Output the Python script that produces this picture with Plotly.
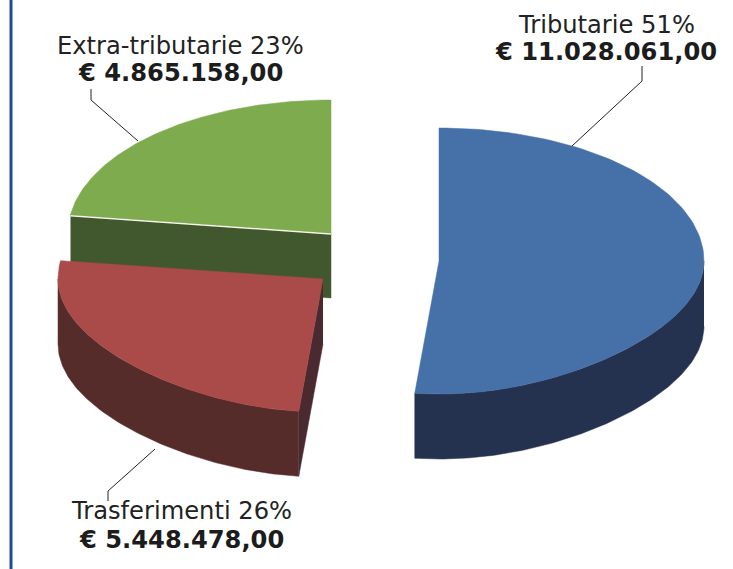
import numpy as np
import plotly.graph_objects as go

categories = ["Tributarie", "Trasferimenti", "Extra-tributarie"]
amounts = [11028061, 5448478, 4865158]
percent_labels = ["51%", "26%", "23%"]
amount_labels = ["€ 11.028.061,00", "€ 5.448.478,00", "€ 4.865.158,00"]

top_colors = ["#4670a8", "#aa4b4a", "#7dab4d"]
wall_colors = ["#25324f", "#552c2a", "#41582f"]
cut_colors = ["#25324f", "#4a2a30", "#41582f"]

W, H = 733, 569
RY, DEPTH = 133, 65
FRONT_TAPER = 0.13
radii_x = {"Tributarie": 265, "Trasferimenti": 265, "Extra-tributarie": 263}
centers = {"Tributarie": (439, 261), "Trasferimenti": (323, 279), "Extra-tributarie": (331, 233)}
label_pos = {"Tributarie": (606, 25, 52), "Trasferimenti": (181, 511, 540), "Extra-tributarie": (180, 46, 73)}
leaders = {
    "Tributarie": ([642, 642, 572], [66, 81, 146]),
    "Trasferimenti": ([108, 108, 155], [501, 491, 449]),
    "Extra-tributarie": ([91, 91, 138], [89, 100, 141]),
}

total = sum(amounts)
edges = np.concatenate([[0], np.cumsum(amounts) / total * 2 * np.pi])


def rim(cat, a0, a1, dz=0, n=120):
    cx, cy = centers[cat]
    t = np.linspace(a0, a1, n)
    taper = 1 - FRONT_TAPER * np.clip(-np.cos(t), 0, 1) ** 2
    return cx + radii_x[cat] * np.sin(t) * taper, cy - RY * np.cos(t) + dz


def poly(x, y, color):
    return go.Scatter(x=list(x), y=list(y), mode="lines", fill="toself", fillcolor=color,
                      line=dict(color=color, width=0.5), hoverinfo="skip", showlegend=False)


fig = go.Figure()
for i in [2, 1, 0]:
    cat = categories[i]
    a0, a1 = edges[i], edges[i + 1]
    cx, cy = centers[cat]
    lo = max(a0, np.pi / 2)
    hi = min(a1, 3 * np.pi / 2)
    if lo < hi:
        xt, yt = rim(cat, lo, hi)
        xb, yb = rim(cat, hi, lo, DEPTH)
        fig.add_trace(poly(np.r_[xt, xb], np.r_[yt, yb], wall_colors[i]))
    if cat == "Extra-tributarie":
        xe, ye = rim(cat, a0, a0, n=1)
        fig.add_trace(poly([xe[0], cx, cx, xe[0]], [ye[0], cy, cy + DEPTH, ye[0] + DEPTH], cut_colors[i]))
    if cat == "Trasferimenti":
        xe, ye = rim(cat, a0, a0, n=1)
        fig.add_trace(poly([cx, xe[0], xe[0], cx], [cy, ye[0], ye[0] + DEPTH, cy + DEPTH], cut_colors[i]))
    xt, yt = rim(cat, a0, a1)
    fig.add_trace(poly(np.r_[cx, xt, cx], np.r_[cy, yt, cy], top_colors[i]))
    if cat == "Extra-tributarie":
        xe, ye = rim(cat, a0, a0, n=1)
        fig.add_trace(go.Scatter(x=[xe[0], cx], y=[ye[0] + 1, cy + 1], mode="lines",
                                 line=dict(color="#f4f8e4", width=1.5), hoverinfo="skip", showlegend=False))

annotations = []
for i, cat in enumerate(categories):
    lx, ly, lb = label_pos[cat]
    annotations.append(dict(x=lx, y=ly, text=f"{cat} {percent_labels[i]}", showarrow=False,
                            xanchor="center", yanchor="middle",
                            font=dict(family="DejaVu Sans", size=24.2, color="#222222")))
    annotations.append(dict(x=lx, y=lb, text=f"<b>{amount_labels[i]}</b>", showarrow=False,
                            xanchor="center", yanchor="middle",
                            font=dict(family="DejaVu Sans", size=24.2, color="#1c1c1c")))
    fig.add_trace(go.Scatter(x=leaders[cat][0], y=leaders[cat][1], mode="lines",
                             line=dict(color="#222222", width=1), hoverinfo="skip", showlegend=False))

fig.add_trace(go.Scatter(x=[11, 11], y=[0, H], mode="lines", line=dict(color="#1f4a96", width=3),
                         hoverinfo="skip", showlegend=False))

fig.update_layout(
    width=W, height=H, margin=dict(l=0, r=0, t=0, b=0),
    paper_bgcolor="white", plot_bgcolor="white",
    xaxis=dict(range=[0, W], visible=False, fixedrange=True),
    yaxis=dict(range=[H, 0], visible=False, fixedrange=True),
    annotations=annotations,
)
fig.write_html("out.html", config={"displayModeBar": False},
               post_script="document.body.style.margin='0';document.body.style.overflow='hidden';")
